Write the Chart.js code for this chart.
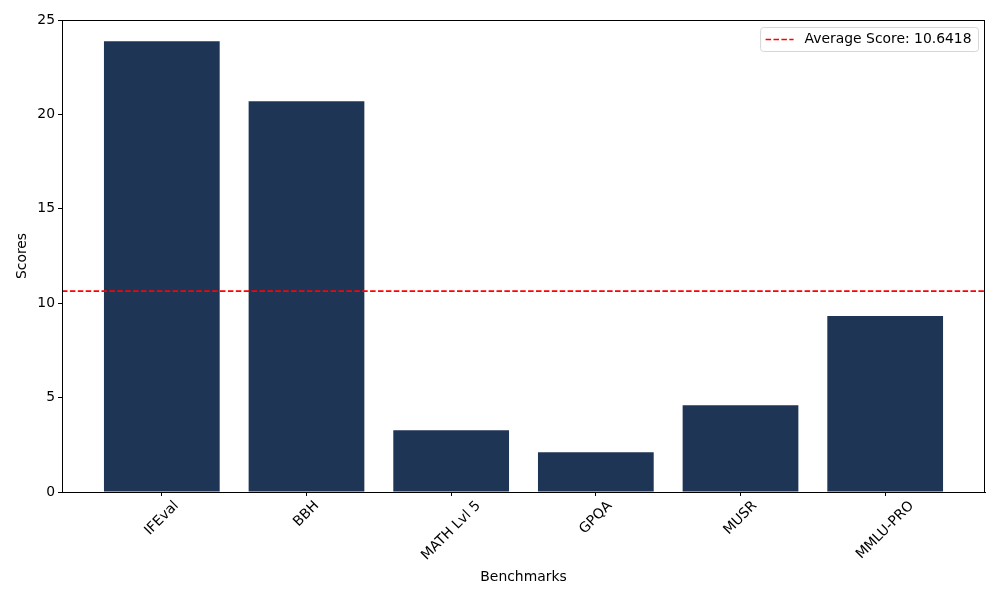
<!DOCTYPE html>
<html>
<head>
<meta charset="utf-8">
<script src="https://cdn.jsdelivr.net/npm/chart.js@4"></script>
<style>
  html, body { margin: 0; padding: 0; background: #fff; }
  #wrap { width: 1000px; height: 600px; }
</style>
</head>
<body>
<div id="wrap"><canvas id="chart" width="1000" height="600"></canvas></div>
<script>
// Chart data
const benchmarks = ['IFEval', 'BBH', 'MATH Lvl 5', 'GPQA', 'MUSR', 'MMLU-PRO'];
const scores = [23.87, 20.69, 3.27, 2.11, 4.60, 9.32];
const yTicks = [0, 5, 10, 15, 20, 25];
const averageScore = 10.6418;

const FONT = 'DejaVu Sans';
const FONT_PX = 13.9;
const BAR_COLOR = '#1f3556';
const X_MIN = -0.69;
const X_MAX = benchmarks.length - 1 + 0.69;

// Decorations drawn the matplotlib way: frame, rotated labels, titles, legend
const decorPlugin = {
    id: 'decor',
    afterDraw(chart) {
        const { ctx, chartArea: area, scales } = chart;
        ctx.save();

        // full frame around the axes
        ctx.strokeStyle = '#000';
        ctx.lineWidth = 1;
        ctx.strokeRect(area.left + 0.5, area.top + 0.5, area.right - area.left - 1, area.bottom - area.top);

        ctx.fillStyle = '#000';
        ctx.font = `${FONT_PX}px "${FONT}"`;

        // x tick labels, rotated 45 deg and centred on the tick
        const s45 = Math.SQRT1_2;
        benchmarks.forEach((name, i) => {
            const x = scales.x.getPixelForValue(i);
            const w = ctx.measureText(name).width;
            const h = FONT_PX * 0.95;
            const boxH = (w + h) * s45;
            const cy = area.bottom + 3.5 + 3.5 + boxH / 2;
            ctx.save();
            ctx.translate(x, cy);
            ctx.rotate(-Math.PI / 4);
            ctx.textAlign = 'center';
            ctx.textBaseline = 'middle';
            ctx.fillText(name, 0, 0);
            ctx.restore();
        });

        // axis titles
        ctx.textAlign = 'center';
        ctx.textBaseline = 'middle';
        ctx.fillText('Benchmarks', (area.left + area.right) / 2, 577);
        ctx.save();
        ctx.translate(22, (area.top + area.bottom) / 2);
        ctx.rotate(-Math.PI / 2);
        ctx.fillText('Scores', 0, 0);
        ctx.restore();

        // legend box in the upper right
        const label = chart.data.datasets[1].label;
        const pad = 7;
        const textW = ctx.measureText(label).width;
        const boxW = 28 + 11 + textW + pad * 2 - 2;
        const boxH = 24;
        const bx = area.right - 7 - boxW;
        const by = area.top + 7;
        ctx.beginPath();
        ctx.roundRect(bx + 0.5, by + 0.5, boxW, boxH, 3);
        ctx.fillStyle = 'rgba(255,255,255,0.8)';
        ctx.fill();
        ctx.strokeStyle = '#d6d6d6';
        ctx.stroke();

        const ly = by + boxH / 2 + 0.5;
        ctx.beginPath();
        ctx.setLineDash([5.5, 2.4]);
        ctx.strokeStyle = '#ff0000';
        ctx.lineWidth = 1.5;
        ctx.moveTo(bx + 5.5, ly);
        ctx.lineTo(bx + 33.5, ly);
        ctx.stroke();
        ctx.setLineDash([]);

        ctx.fillStyle = '#000';
        ctx.textAlign = 'left';
        ctx.fillText(label, bx + 44.5, ly);

        ctx.restore();
    }
};

const ctx = document.getElementById('chart').getContext('2d');
new Chart(ctx, {
    data: {
        datasets: [{
            type: 'bar',
            label: 'Scores',
            data: scores.map((s, i) => ({ x: i, y: s })),
            backgroundColor: BAR_COLOR,
            borderWidth: 0,
            inflateAmount: 0,
            barPercentage: 1,
            categoryPercentage: 0.8,
            order: 2
        }, {
            type: 'line',
            label: `Average Score: ${averageScore}`,
            data: [{ x: X_MIN, y: averageScore }, { x: X_MAX, y: averageScore }],
            borderColor: '#ff0000',
            borderWidth: 1.6,
            borderDash: [5.5, 2.4],
            pointRadius: 0,
            fill: false,
            order: 1
        }]
    },
    options: {
        responsive: false,
        animation: false,
        devicePixelRatio: 1,
        layout: { padding: { left: 0, top: 20, right: 15, bottom: 0 } },
        plugins: {
            legend: { display: false },
            tooltip: { enabled: false }
        },
        scales: {
            x: {
                type: 'linear',
                offset: false,
                min: X_MIN,
                max: X_MAX,
                afterFit: scale => { scale.height = 108; },
                ticks: {
                    stepSize: 1,
                    includeBounds: false,
                    display: false
                },
                grid: {
                    offset: false,
                    drawOnChartArea: false,
                    drawTicks: true,
                    tickLength: 4,
                    tickColor: '#000'
                },
                border: { color: '#000', width: 1 }
            },
            y: {
                min: 0,
                max: 25,
                afterFit: scale => { scale.width = 62; },
                afterBuildTicks: scale => {
                    scale.ticks = yTicks.map(v => ({ value: v }));
                },
                ticks: {
                    color: '#000',
                    padding: 3,
                    font: { family: FONT, size: FONT_PX }
                },
                grid: {
                    drawOnChartArea: false,
                    drawTicks: true,
                    tickLength: 4,
                    tickColor: '#000'
                },
                border: { color: '#000', width: 1 }
            }
        }
    },
    plugins: [decorPlugin]
});
</script>
</body>
</html>
